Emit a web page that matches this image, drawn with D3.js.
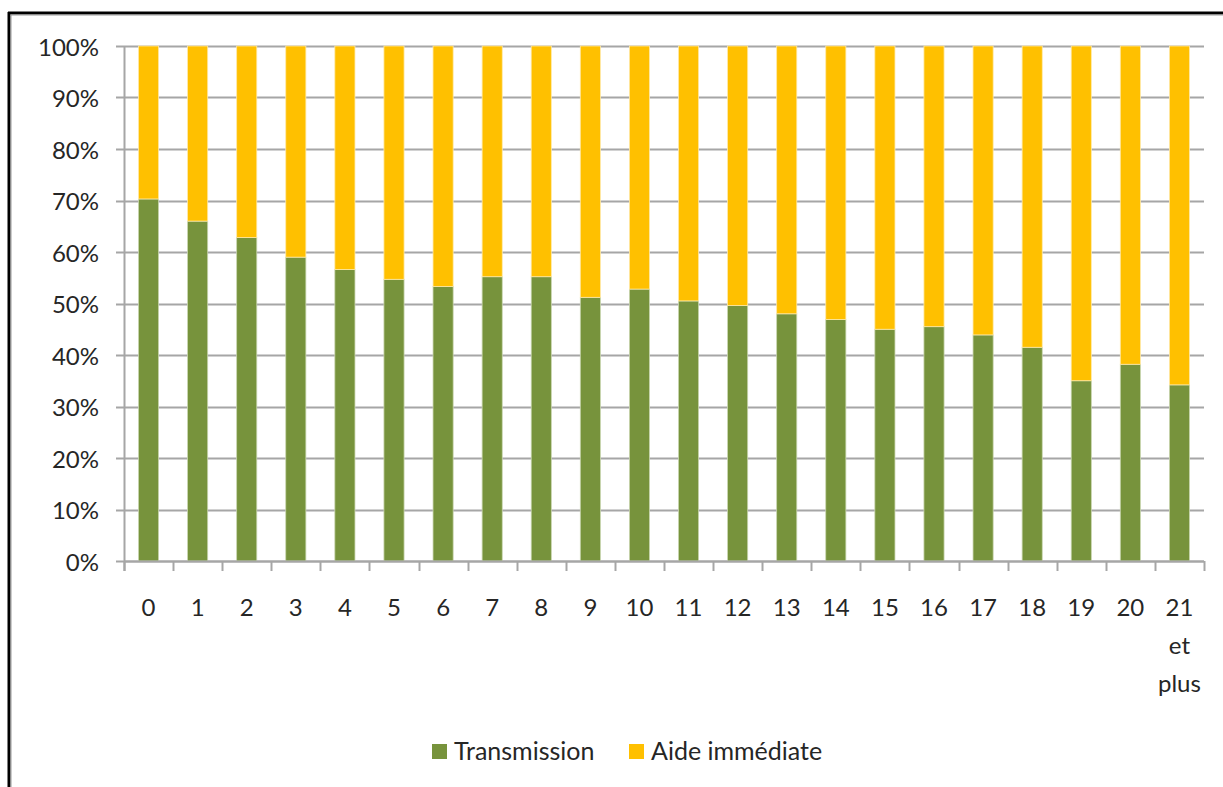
<!DOCTYPE html>
<html>
<head>
<meta charset="utf-8">
<script src="https://cdn.jsdelivr.net/npm/d3@7"></script>
<style>
  html, body { margin: 0; padding: 0; background: #fff; }
  svg { display: block; }
  text { font-family: Lato, "Open Sans", sans-serif; fill: #262626; }
</style>
</head>
<body>
<svg id="chart" width="1223" height="787"></svg>
<script>
const categories = ["0","1","2","3","4","5","6","7","8","9","10","11","12","13","14","15","16","17","18","19","20","21 et plus"];
const transmission = [70.3, 66.0, 62.8, 59.0, 56.6, 54.7, 53.3, 55.2, 55.2, 51.2, 52.8, 50.5, 49.6, 48.0, 46.9, 45.0, 45.5, 43.9, 41.5, 35.0, 38.2, 34.2];
const aideImmediate = [29.7, 34.0, 37.2, 41.0, 43.4, 45.3, 46.7, 44.8, 44.8, 48.8, 47.2, 49.5, 50.4, 52.0, 53.1, 55.0, 54.5, 56.1, 58.5, 65.0, 61.8, 65.8];
const seriesNames = ["Transmission", "Aide immédiate"];
const seriesColors = ["#77933C", "#FFC000"];
const yTicks = [0,10,20,30,40,50,60,70,80,90,100];

(function () {
const svg = d3.select("#chart");

// outer frame
svg.append("line").attr("x1", 9).attr("x2", 9).attr("y1", 12).attr("y2", 787)
  .attr("stroke", "#000").attr("stroke-width", 3);
svg.append("line").attr("x1", 11).attr("x2", 11).attr("y1", 15).attr("y2", 787)
  .attr("stroke", "#999").attr("stroke-width", 1);
svg.append("line").attr("x1", 8).attr("x2", 1223).attr("y1", 13).attr("y2", 13)
  .attr("stroke", "#000").attr("stroke-width", 3);
svg.append("line").attr("x1", 10).attr("x2", 1223).attr("y1", 15).attr("y2", 15)
  .attr("stroke", "#999").attr("stroke-width", 1);

const pLeft = 124, pRight = 1204, pTop = 46, pBottom = 561;
const x = d3.scaleBand().domain(categories).range([pLeft, pRight]).paddingInner(0.59).paddingOuter(0.295);
const y = d3.scaleLinear().domain([0, 100]).range([pBottom, pTop]);

// gridlines
svg.append("g").selectAll("line").data(yTicks).join("line")
  .attr("x1", pLeft - 8).attr("x2", pRight)
  .attr("y1", d => Math.round(y(d)) + 0.5).attr("y2", d => Math.round(y(d)) + 0.5)
  .attr("stroke", "#A6A6A6").attr("stroke-width", 2);

// y labels
svg.append("g").selectAll("text").data(yTicks).join("text")
  .attr("x", 99).attr("y", d => y(d))
  .attr("text-anchor", "end").attr("dominant-baseline", "central")
  .style("font-size", "24px")
  .text(d => d + "%");

// bars
const stackData = categories.map((c, i) => ({cat: c, t: transmission[i], a: aideImmediate[i]}));
const bars = svg.append("g");
bars.selectAll("rect.t").data(stackData).join("rect").attr("class", "t")
  .attr("x", d => x(d.cat)).attr("width", x.bandwidth())
  .attr("y", d => y(d.t)).attr("height", d => y(0) - y(d.t))
  .attr("fill", seriesColors[0]).attr("stroke", "#C9D6B0").attr("stroke-width", 0.8);
bars.selectAll("rect.a").data(stackData).join("rect").attr("class", "a")
  .attr("x", d => x(d.cat)).attr("width", x.bandwidth())
  .attr("y", d => y(d.t + d.a)).attr("height", d => y(d.t) - y(d.t + d.a))
  .attr("fill", seriesColors[1]).attr("stroke", "#FFE9A8").attr("stroke-width", 0.8);

// axes lines
svg.append("line").attr("x1", pLeft + 0.5).attr("x2", pLeft + 0.5).attr("y1", pTop).attr("y2", pBottom + 10)
  .attr("stroke", "#A6A6A6").attr("stroke-width", 2);
svg.append("line").attr("x1", pLeft).attr("x2", pRight).attr("y1", pBottom + 0.5).attr("y2", pBottom + 0.5)
  .attr("stroke", "#A6A6A6").attr("stroke-width", 2);
const step = x.step();
const boundaries = categories.map(c => x(c) - step * x.paddingInner() / 2);
boundaries.push(pRight);
svg.append("g").selectAll("line").data(boundaries).join("line")
  .attr("x1", d => Math.round(d) + 0.5).attr("x2", d => Math.round(d) + 0.5)
  .attr("y1", pBottom).attr("y2", pBottom + 10)
  .attr("stroke", "#A6A6A6").attr("stroke-width", 2);

// x labels
const xl = svg.append("g").selectAll("text").data(categories).join("text")
  .attr("x", d => x(d) + x.bandwidth() / 2).attr("y", 616)
  .attr("text-anchor", "middle").style("font-size", "24px");
xl.each(function(d) {
  const parts = d === "21 et plus" ? ["21", "et", "plus"] : [d];
  d3.select(this).selectAll("tspan").data(parts).join("tspan")
    .attr("x", x(d) + x.bandwidth() / 2).attr("dy", (p, i) => i === 0 ? 0 : 38)
    .text(p => p);
});

// legend
const legend = svg.append("g");
const legendX = [432, 629];
seriesNames.forEach((n, i) => {
  legend.append("rect").attr("x", legendX[i]).attr("y", 744).attr("width", 15).attr("height", 15)
    .attr("fill", seriesColors[i]);
  legend.append("text").attr("x", legendX[i] + 22).attr("y", 760)
    .style("font-size", "25px").text(n);
});
})();
</script>
</body>
</html>
